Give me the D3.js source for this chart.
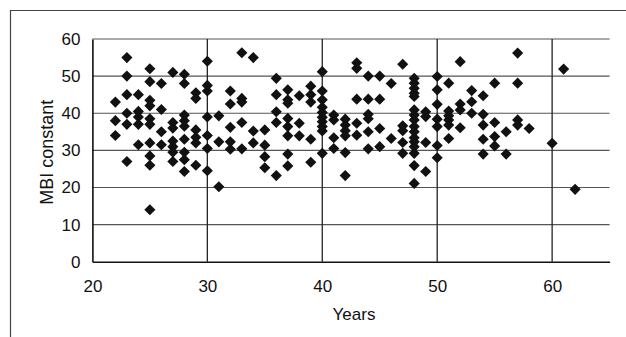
<!DOCTYPE html>
<html>
<head>
<meta charset="utf-8">
<script src="https://cdn.jsdelivr.net/npm/d3@7"></script>
<style>
  html, body { margin: 0; padding: 0; background: #fff; }
  svg text { font-family: "Liberation Sans", Arial, sans-serif; fill: #111; }
</style>
</head>
<body>
<svg id="chart"></svg>
<script>
const xTicks = [20, 30, 40, 50, 60]
const yTicks = [0, 10, 20, 30, 40, 50, 60]

const ageGroups = [22, 23, 24, 25, 26, 27, 28, 29, 30, 31, 32, 33, 34, 35, 36, 37, 38, 39, 40, 41,
    42, 43, 44, 45, 46, 47, 48, 49, 50, 51, 52, 53, 54, 55, 56, 57, 58, 60, 61, 62]
const mbiByAge = [
    [43, 38, 34],
    [55, 50, 45, 40, 37, 27],
    [45, 40.5, 39, 37, 31.5],
    [52, 48.5, 43.5, 42, 38.5, 37, 32, 28.5, 26, 14],
    [48, 41, 35, 31.5],
    [51, 37.5, 36, 32.5, 31, 29.5, 27],
    [50.5, 48, 39.5, 38, 36.5, 33, 29.5, 27.5, 24.3],
    [45.5, 44, 35.5, 33.5, 32, 26],
    [54, 47.5, 46, 39, 34, 30.5, 24.5],
    [39.3, 32.3, 20.2],
    [46, 42.5, 36.2, 32.3, 30.3],
    [56.3, 44, 43, 37.5, 30.4],
    [55, 35.2, 32],
    [35.5, 31.4, 28.3, 25.3],
    [49.4, 45, 40.4, 37.5, 23.2],
    [46.3, 43.6, 42.7, 38.6, 36.4, 33.9, 29, 25.8],
    [44.7, 37.3, 33.9],
    [47.3, 45, 43, 33, 26.8],
    [51.2, 46, 43.6, 41.6, 40.2, 38.9, 37.7, 36.4, 35.2, 29.2],
    [39.5, 38.2, 33.4, 30.5],
    [38.4, 36.8, 35.3, 33.9, 29.4, 23.2],
    [53.6, 52.1, 43.8, 37.3, 34.1],
    [50, 43.8, 39.7, 38.5, 35, 30.4],
    [50, 43.8, 35.9, 31],
    [48, 33.2],
    [53.2, 36.6, 35.3, 32.1, 29.2],
    [49.4, 48.1, 46.7, 45.4, 44.5, 40.9, 39.5, 38.2, 36.4, 35, 33.4, 32.3, 31, 29.2, 25.9, 21.1],
    [40.4, 39.1, 32.1, 24.3],
    [49.9, 46.3, 42.4, 38.4, 36.4, 31.3, 28],
    [48.1, 40.6, 39.3, 38.2, 36.8, 33.2],
    [53.9, 42.5, 40.9, 36.1],
    [46.1, 43.1, 40],
    [44.7, 39.7, 36.8, 33, 29],
    [48.1, 37.5, 33.7, 31.2],
    [35, 29],
    [56.2, 48.1, 38.2, 36.8],
    [35.9],
    [31.9],
    [51.9],
    [19.5]
]

const points = ageGroups.flatMap((age, i) => mbiByAge[i].map(v => ({ age, v })))

const width = 626, height = 337
const plot = { left: 92.4, right: 609.6, top: 39, bottom: 261.7 }

const svg = d3.select('#chart').attr('width', width).attr('height', height)

// outer frame (top and left edges only)
svg.append('path')
    .attr('d', `M10.5,${height} V10.5 H${width}`)
    .attr('fill', 'none').attr('stroke', '#444').attr('stroke-width', 1.2)

const x = d3.scaleLinear().domain([20, 65]).range([plot.left, plot.right])
const y = d3.scaleLinear().domain([0, 60]).range([plot.bottom, plot.top])

// horizontal grid
svg.append('g')
    .selectAll('line')
    .data(yTicks.filter(d => d > 0))
    .join('line')
    .attr('x1', plot.left).attr('x2', plot.right)
    .attr('y1', d => y(d)).attr('y2', d => y(d))
    .attr('stroke', '#555').attr('stroke-width', 1.1)

// vertical grid
svg.append('g')
    .selectAll('line')
    .data(xTicks.filter(d => d > 20))
    .join('line')
    .attr('x1', d => x(d)).attr('x2', d => x(d))
    .attr('y1', plot.top).attr('y2', plot.bottom)
    .attr('stroke', '#222').attr('stroke-width', 1.3)

// axes
const xAxis = svg.append('g')
    .attr('transform', `translate(0,${plot.bottom})`)
    .call(d3.axisBottom(x).tickValues(xTicks).tickSize(0).tickPadding(18).tickSizeOuter(0))
xAxis.select('.domain').attr('stroke', '#111').attr('stroke-width', 1.6)
xAxis.selectAll('text').attr('font-size', 17).attr('fill', '#111')

const yAxis = svg.append('g')
    .attr('transform', `translate(${plot.left},0)`)
    .call(d3.axisLeft(y).tickValues(yTicks).tickSize(0).tickPadding(12).tickSizeOuter(0))
yAxis.select('.domain').attr('stroke', '#111').attr('stroke-width', 1.6)
yAxis.selectAll('text').attr('font-size', 17).attr('fill', '#111')

// points
const diamond = d3.symbol(d3.symbolSquare, 62)
svg.append('g')
    .selectAll('path')
    .data(points)
    .join('path')
    .attr('d', diamond)
    .attr('transform', d => `translate(${x(d.age)},${y(d.v)}) rotate(45)`)
    .attr('fill', '#111')

// axis titles
svg.append('text')
    .attr('x', (plot.left + plot.right) / 2 + 3).attr('y', 320)
    .attr('text-anchor', 'middle').attr('font-size', 17)
    .text('Years')

svg.append('text')
    .attr('transform', `translate(53,${(plot.top + plot.bottom) / 2 + 2}) rotate(-90)`)
    .attr('text-anchor', 'middle').attr('font-size', 18)
    .text('MBI constant')
</script>
</body>
</html>
